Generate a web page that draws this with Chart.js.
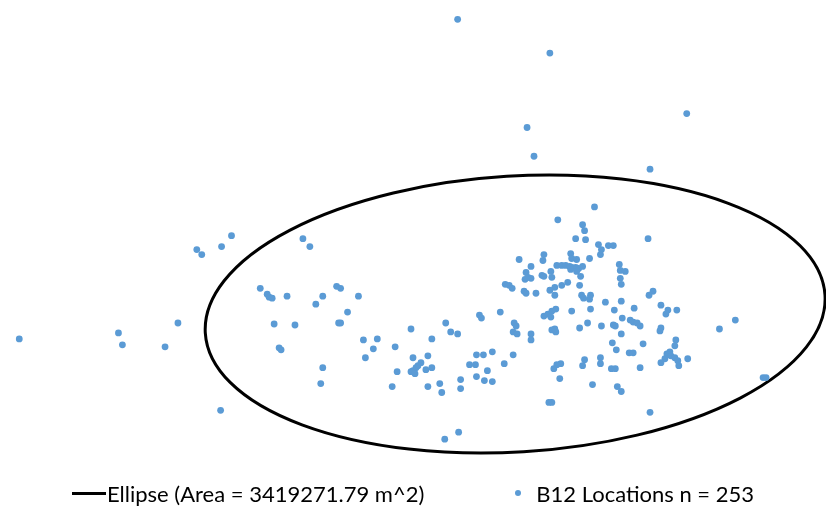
<!DOCTYPE html>
<html>
<head>
<meta charset="utf-8">
<script src="https://cdn.jsdelivr.net/npm/chart.js@4/dist/chart.umd.min.js"></script>
<style>
  body { margin: 0; background: #fff; }
  #wrap { position: relative; width: 826px; height: 517px; }
  #legend {
    position: absolute; left: 0; top: 460px; width: 826px; height: 57px;
    display: flex; justify-content: center; align-items: center;
    font-family: Lato, "Liberation Sans", sans-serif; font-size: 22px; color: #000;
    padding-top: 9px; box-sizing: border-box;
  }
  .item { display: flex; align-items: center; white-space: pre; }
  .line { width: 34px; height: 3px; background: #000; margin-right: 1px; }
  .dot { width: 6px; height: 6px; border-radius: 50%; margin-left: 91px; margin-right: 15px; }
</style>
</head>
<body>
<div id="wrap">
  <canvas id="chart" width="826" height="517"></canvas>
  <div id="legend"></div>
</div>
<script>
// Location fixes (x right, y down, no axes shown)
const outlierPoints = [[458,16],[551,50],[689,111],[528,125],[535,154],[652,167],[596,205],[559,218],[584,223],[586,229],[577,237],[587,238],[650,237]];
const westPoints = [[230,234],[220,245],[195,248],[200,253],[302,237],[309,245],[259,287],[266,293],[268,296],[271,297],[286,295],[322,295],[315,303],[336,285],[340,287],[358,295],[347,311],[338,322],[340,322],[273,323],[294,324],[176,322],[116,332],[120,344],[163,346],[16,338],[278,347],[280,349],[363,339],[377,338],[373,348],[365,357],[322,367],[320,383],[219,410]];
const midPoints = [[520,258],[527,271],[526,278],[529,276],[506,283],[510,284],[513,287],[525,290],[527,292],[480,314],[482,317],[501,311],[515,322],[517,325],[446,322],[411,328],[451,331],[458,333],[432,338],[514,331],[518,333],[532,333],[532,339],
  [395,346],[413,357],[428,355],[421,362],[418,365],[416,367],[413,370],[411,371],[415,373],[426,369],[432,367],[397,371],[392,386],[428,386],[440,383],[442,392],[461,379],[461,388],[477,354],[484,354],[493,351],[470,364],[476,364],[488,370],[477,376],[485,380],[493,381],[505,363],[514,354],[445,439],[459,432]];
const corePoints = [[600,243],[610,244],[615,244],[603,248],[602,253],[572,252],[573,257],[578,258],[545,253],[544,259],[591,257],[558,264],[563,264],[567,264],[571,265],[573,266],[577,266],[580,267],[584,265],[572,268],[578,270],[532,265],[552,270],[543,274],[545,275],[553,276],[582,275],[621,263],[622,269],[627,270],[622,277],[623,283],[532,277],[569,281],[563,284],[556,286],[551,289],[581,284],[537,292],[556,294],[583,294],[585,297],[592,294],[591,298],[607,301],[623,300],[655,290],[651,294],[663,304],[670,309],[668,313],[679,309],[636,307],[616,309],[592,308],[573,310],[545,315],[549,313],[552,316],[553,310],[557,308]];
const southPoints = [[589,322],[581,327],[603,325],[615,324],[617,325],[553,329],[557,331],[556,328],[614,342],[618,349],[602,357],[602,363],[586,359],[584,365],[562,363],[558,364],[555,368],[624,317],[632,319],[635,321],[639,322],[642,325],[623,333],[663,327],[662,330],[645,343],[678,339],[677,345],[631,352],[635,352],[672,351],[669,353],[673,355],[677,357],[667,358],[663,362],[680,360],[681,365],[690,358],[642,367],[561,378],[613,368],[617,368],[594,384],[619,386],[623,391],[550,402],[553,402],[652,412]];
const eastPoints = [[738,319],[722,328],[766,377],[769,377]];

// Ellipse in the same units
const ellipseCenter = [516, 313];
const ellipseRadii = [313, 139];
const ellipseTiltDeg = -3.5;

const ellipseLabel = 'Ellipse (Area = 3419271.79 m^2)';
const pointsLabel = 'B12 Locations n = 253';

const allPoints = [].concat(outlierPoints, westPoints, midPoints, corePoints, southPoints, eastPoints)
  .map(p => ({ x: p[0], y: p[1] }));

// draws the ellipse of dataset 0 through the chart scales
const ellipsePlugin = {
  id: 'ellipse',
  beforeDatasetsDraw(chart) {
    const { ctx, scales: { x, y } } = chart;
    const ds = chart.data.datasets[0];
    const cx = x.getPixelForValue(ellipseCenter[0]);
    const cy = y.getPixelForValue(ellipseCenter[1]);
    const rx = Math.abs(x.getPixelForValue(ellipseCenter[0] + ellipseRadii[0]) - cx);
    const ry = Math.abs(y.getPixelForValue(ellipseCenter[1] + ellipseRadii[1]) - cy);
    ctx.save();
    ctx.beginPath();
    ctx.ellipse(cx, cy, rx, ry, ellipseTiltDeg * Math.PI / 180, 0, Math.PI * 2);
    ctx.strokeStyle = ds.borderColor;
    ctx.lineWidth = ds.borderWidth;
    ctx.stroke();
    ctx.restore();
  }
};

const chart = new Chart(document.getElementById('chart'), {
  type: 'scatter',
  data: {
    datasets: [
      {
        label: ellipseLabel,
        type: 'line',
        data: [],
        borderColor: '#000',
        borderWidth: 3
      },
      {
        label: pointsLabel,
        data: allPoints,
        backgroundColor: '#5b9bd5',
        borderWidth: 0,
        pointRadius: 3.4,
        pointHoverRadius: 3.4
      }
    ]
  },
  options: {
    responsive: false,
    animation: false,
    layout: { padding: { top: 0, left: 0, right: 0, bottom: 57 } },
    plugins: {
      legend: { display: false },
      tooltip: { enabled: false }
    },
    scales: {
      x: { display: false, min: 0, max: 826 },
      y: { display: false, min: 0, max: 460, reverse: true }
    }
  },
  plugins: [ellipsePlugin]
});

// legend as html below the plot
const legendEl = document.getElementById('legend');
chart.data.datasets.forEach((ds, i) => {
  const item = document.createElement('div');
  item.className = 'item';
  const mark = document.createElement('span');
  if (i === 0) {
    mark.className = 'line';
    mark.style.background = ds.borderColor;
  } else {
    mark.className = 'dot';
    mark.style.background = ds.backgroundColor;
  }
  const text = document.createElement('span');
  text.textContent = ds.label;
  item.appendChild(mark);
  item.appendChild(text);
  legendEl.appendChild(item);
});
</script>
</body>
</html>
